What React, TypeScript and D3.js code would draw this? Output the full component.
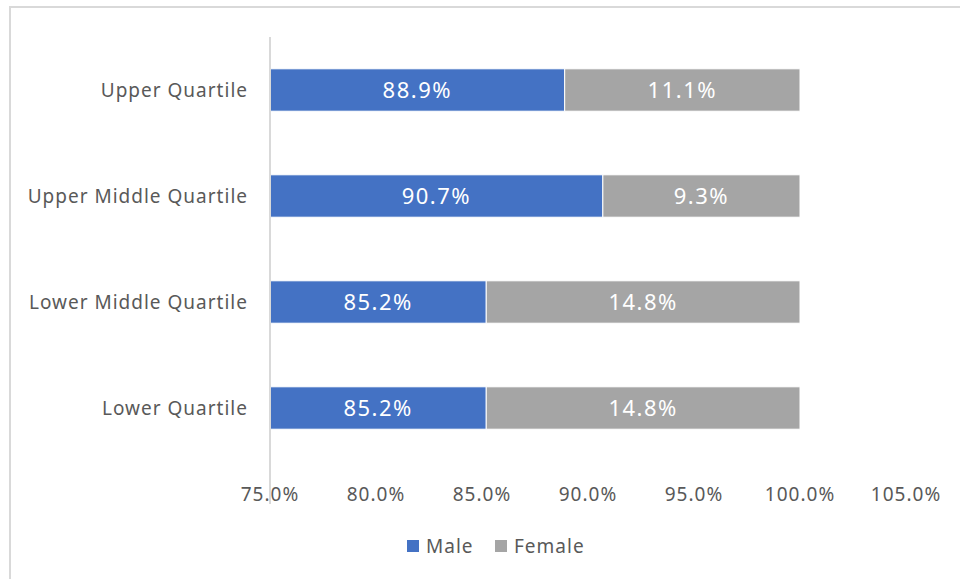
import React, { useEffect, useRef } from "react";
import * as d3 from "d3";

const categories = ["Upper Quartile", "Upper Middle Quartile", "Lower Middle Quartile", "Lower Quartile"];
const maleValues = [88.9, 90.7, 85.2, 85.2];
const femaleValues = [11.1, 9.3, 14.8, 14.8];
const xTicks = [75, 80, 85, 90, 95, 100, 105];
const seriesNames = ["Male", "Female"];
const seriesColors = ["#4472c4", "#a5a5a5"];

function renderChart(node: SVGSVGElement) {
  const width = 960;
  const height = 579;
  const margin = { top: 37, right: 54, bottom: 118, left: 270 };

  const svg = d3.select(node);
  svg.selectAll("*").remove();

  // chart border
  svg
    .append("rect")
    .attr("x", 10)
    .attr("y", 7)
    .attr("width", 960)
    .attr("height", 600)
    .attr("fill", "#fff")
    .attr("stroke", "#d9d9d9")
    .attr("stroke-width", 2);

  const xScale = d3.scaleLinear().domain([75, 105]).range([margin.left, width - margin.right]);
  const yScale = d3
    .scaleBand()
    .domain(categories)
    .range([margin.top, height - margin.bottom])
    .paddingInner(0.6)
    .paddingOuter(0.3);

  const font = "'Noto Sans', sans-serif";

  // category labels
  svg
    .append("g")
    .selectAll("text")
    .data(categories)
    .enter()
    .append("text")
    .attr("x", margin.left - 22)
    .attr("y", (d) => yScale(d)! + yScale.bandwidth() / 2)
    .attr("dy", "0.35em")
    .attr("text-anchor", "end")
    .attr("font-family", font)
    .attr("font-size", 19)
    .attr("letter-spacing", 1)
    .attr("fill", "#595959")
    .text((d) => d);

  // x tick labels
  svg
    .append("g")
    .selectAll("text")
    .data(xTicks)
    .enter()
    .append("text")
    .attr("x", (d) => xScale(d))
    .attr("y", 494)
    .attr("dy", "0.35em")
    .attr("text-anchor", "middle")
    .attr("font-family", font)
    .attr("font-size", 19)
    .attr("letter-spacing", 1)
    .attr("fill", "#595959")
    .text((d) => d3.format(".1f")(d) + "%");

  const stacks = categories.map((c, i) => [
    { key: seriesNames[0], cat: c, x0: 75, x1: maleValues[i], value: maleValues[i], color: seriesColors[0] },
    { key: seriesNames[1], cat: c, x0: maleValues[i], x1: maleValues[i] + femaleValues[i], value: femaleValues[i], color: seriesColors[1] },
  ]);
  const segs = stacks.flat();

  svg
    .append("g")
    .selectAll("rect")
    .data(segs)
    .enter()
    .append("rect")
    .attr("x", (d) => xScale(d.x0))
    .attr("y", (d) => yScale(d.cat)!)
    .attr("width", (d) => xScale(d.x1) - xScale(d.x0))
    .attr("height", yScale.bandwidth())
    .attr("fill", (d) => d.color)
    .attr("stroke", "#fff")
    .attr("stroke-width", 1);

  svg
    .append("g")
    .selectAll("text")
    .data(segs)
    .enter()
    .append("text")
    .attr("x", (d) => (xScale(d.x0) + xScale(d.x1)) / 2)
    .attr("y", (d) => yScale(d.cat)! + yScale.bandwidth() / 2)
    .attr("dy", "0.36em")
    .attr("text-anchor", "middle")
    .attr("font-family", font)
    .attr("font-size", 22)
    .attr("letter-spacing", 1.5)
    .attr("fill", "#fff")
    .text((d) => d3.format(".1f")(d.value) + "%");

  // vertical axis line
  svg
    .append("line")
    .attr("x1", xScale(75))
    .attr("x2", xScale(75))
    .attr("y1", margin.top)
    .attr("y2", height - margin.bottom + 43)
    .attr("stroke", "#d9d9d9")
    .attr("stroke-width", 2);

  // legend
  const legendX = [407, 495];
  const legend = svg
    .append("g")
    .selectAll("g")
    .data(seriesNames)
    .enter()
    .append("g")
    .attr("transform", (d, i) => "translate(" + legendX[i] + ",546)");
  legend
    .append("rect")
    .attr("x", 0)
    .attr("y", -6)
    .attr("width", 12)
    .attr("height", 12)
    .attr("fill", (d, i) => seriesColors[i]);
  legend
    .append("text")
    .attr("x", 19)
    .attr("y", 0)
    .attr("dy", "0.35em")
    .attr("font-family", font)
    .attr("font-size", 19)
    .attr("letter-spacing", 1)
    .attr("fill", "#595959")
    .text((d) => d);
}

export default function App() {
  const ref = useRef<SVGSVGElement>(null);
  useEffect(() => {
    if (ref.current) renderChart(ref.current);
  }, []);
  return (
    <svg
      ref={ref}
      width={960}
      height={579}
      style={{ position: "absolute", left: 0, top: 0, background: "#fff" }}
    />
  );
}
